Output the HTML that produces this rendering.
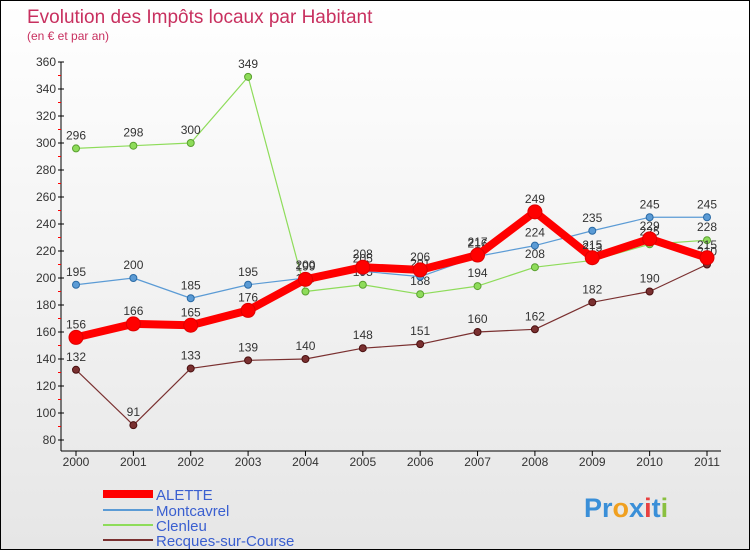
<!DOCTYPE html>
<html><head><meta charset="utf-8"><style>
body{margin:0;background:#fff}
#wrap{position:relative;width:748px;height:548px;border:1px solid #000;background:linear-gradient(#fff,#e6e6e6);font-family:"Liberation Sans",sans-serif;overflow:hidden}
</style></head><body>
<div id="wrap">
<svg id="svg" width="748" height="548" xmlns="http://www.w3.org/2000/svg">
<text x="26" y="22" font-size="19" fill="#c8305f">Evolution des Impôts locaux par Habitant</text>
<text x="26" y="39" font-size="12" fill="#c8305f">(en € et par an)</text>
<g id="axes"></g><g id="series"></g>
<g>
<line x1="102" y1="493" x2="152" y2="493" stroke="#f00" stroke-width="8"/>
<text x="155" y="499" font-size="15" fill="#3a5fd0">ALETTE</text>
<line x1="102" y1="509" x2="152" y2="509" stroke="#5b9bd5" stroke-width="2"/>
<text x="155" y="515" font-size="15" fill="#3a5fd0">Montcavrel</text>
<line x1="102" y1="524" x2="152" y2="524" stroke="#8edc5a" stroke-width="2"/>
<text x="155" y="530" font-size="15" fill="#3a5fd0">Clenleu</text>
<line x1="102" y1="539" x2="152" y2="539" stroke="#7a3030" stroke-width="2"/>
<text x="155" y="545" font-size="15" fill="#3a5fd0">Recques-sur-Course</text>
</g>
<text x="583" y="516" font-size="27" font-weight="bold"><tspan fill="#3a8fd8">Pr</tspan><tspan fill="#f0a020">o</tspan><tspan fill="#3a8fd8">x</tspan><tspan fill="#e84040">i</tspan><tspan fill="#3a8fd8">t</tspan><tspan fill="#8ac040">i</tspan></text>
</svg>
</div>
<script>
const years=["2000","2001","2002","2003","2004","2005","2006","2007","2008","2009","2010","2011"];
const alette=[156,166,165,176,199,208,206,217,249,215,229,215];
const montcavrel=[195,200,185,195,200,205,201,216,224,235,245,245];
const clenleu=[296,298,300,349,190,195,188,194,208,213,225,228];
const recques=[132,91,133,139,140,148,151,160,162,182,190,210];
const yTicks=[80,100,120,140,160,180,200,220,240,260,280,300,320,340,360];
const NS="http://www.w3.org/2000/svg";
function xs(i){return 75+i*(706-75)/11;}
function ys(v){return 439-(v-80)*(439-61)/280;}
function mk(t,a,p){const e=document.createElementNS(NS,t);for(const k in a)e.setAttribute(k,a[k]);p.appendChild(e);return e;}
const ax=document.getElementById('axes');
const yl=mk('line',{x1:60,y1:61,x2:60,y2:450,stroke:'#000'},ax);


const xl=mk('line',{x1:60,y1:450,x2:720,y2:450,stroke:'#000'},ax);


yTicks.forEach(v=>{
 mk('line',{x1:57,y1:ys(v),x2:63,y2:ys(v),stroke:'#000'},ax);
 if(v<360)mk('line',{x1:57,y1:ys(v+10),x2:60,y2:ys(v+10),stroke:'#f00'},ax);
 const t=mk('text',{x:55,y:ys(v)+4,'font-size':12,'text-anchor':'end',fill:'#333'},ax);
 t.textContent=v;
 
 
});
years.forEach((y,i)=>{
 mk('line',{x1:xs(i),y1:450,x2:xs(i),y2:455,stroke:'#000'},ax);
 const t=mk('text',{x:xs(i),y:465,'font-size':12,'text-anchor':'middle',fill:'#333'},ax);
 t.textContent=y;
 
 
});
const sg=document.getElementById('series');
function draw(data,name,color,w,r,stroke){
 const g=mk('g',{},sg);
 
 
 const pl=mk('polyline',{points:data.map((v,i)=>xs(i)+','+ys(v)).join(' '),fill:'none',stroke:color,'stroke-width':w,'stroke-linejoin':'round'},g);
 
 
 data.forEach((v,i)=>{
  const c=mk('circle',{cx:xs(i),cy:ys(v),r:r,fill:color,stroke:stroke,'stroke-width':1},g);
  
  
  const t=mk('text',{x:xs(i),y:ys(v)-9,'font-size':12,'text-anchor':'middle',fill:'#333'},g);
  t.textContent=v;
  
  
 });
}
draw(recques,'recques','#7a3030',1.2,3.5,'#4a1010');
draw(clenleu,'clenleu','#8edc5a',1.2,3.5,'#5aa030');
draw(montcavrel,'montcavrel','#5b9bd5',1.2,3.5,'#2a6aa5');
draw(alette,'alette','#f00',8,7,'#d00');
</script>
</body></html>
